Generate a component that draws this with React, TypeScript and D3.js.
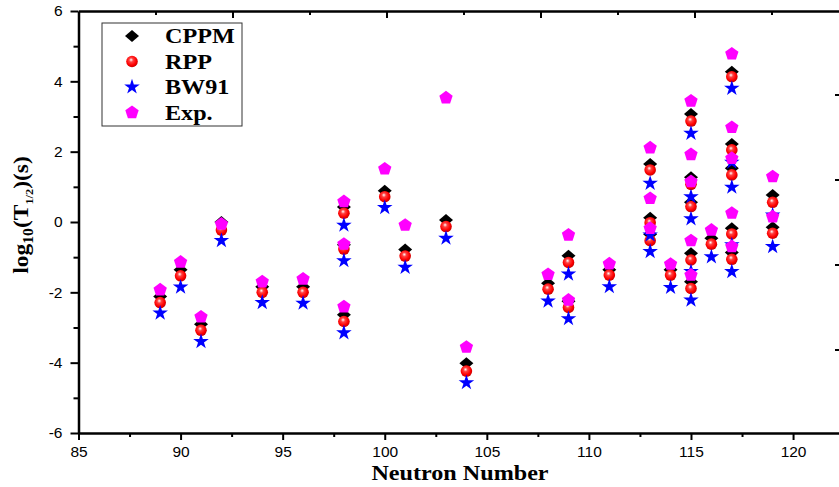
import React, { useEffect, useRef } from "react";
import * as d3 from "d3";

// neutron number of each nucleus, and log10(T1/2) from each model
const neutrons = [89, 90, 91, 92, 94, 96, 98, 98, 98, 100, 101, 103, 104, 108, 109, 109, 111, 113, 113, 113, 114, 115, 115, 115, 115, 115, 116, 117, 117, 117, 117, 117, 119, 119];
const cppm = [-2.12, -1.36, -2.91, 0.0, -1.84, -1.84, 0.43, -0.65, -2.64, 0.89, -0.78, 0.06, -4.02, -1.74, -0.96, -2.25, -1.36, 1.65, 0.12, -0.35, -1.36, 3.07, 1.27, 0.56, -0.89, -1.7, -0.46, 4.27, 2.22, 1.53, -0.18, -0.87, 0.77, -0.15];
const rpp = [-2.29, -1.53, -3.08, -0.23, -2.0, -2.0, 0.25, -0.77, -2.83, 0.72, -0.97, -0.13, -4.24, -1.91, -1.15, -2.43, -1.51, 1.48, -0.02, -0.53, -1.51, 2.87, 1.07, 0.44, -1.08, -1.89, -0.63, 4.13, 2.05, 1.34, -0.34, -1.06, 0.56, -0.32];
const bw91 = [-2.59, -1.85, -3.4, -0.53, -2.29, -2.31, -0.09, -1.1, -3.15, 0.41, -1.29, -0.46, -4.57, -2.25, -1.48, -2.75, -1.84, 1.1, -0.37, -0.84, -1.86, 2.52, 0.72, 0.09, -1.41, -2.22, -0.99, 3.8, 1.7, 0.99, -0.65, -1.41, 0.2, -0.7];
const expt = [-1.93, -1.14, -2.7, -0.06, -1.7, -1.62, 0.58, -0.63, -2.41, 1.51, -0.09, 3.53, -3.56, -1.49, -0.37, -2.22, -1.19, 2.11, 0.67, -0.18, -1.2, 3.44, 1.92, 1.15, -0.53, -1.51, -0.23, 4.78, 2.69, 1.81, 0.25, -0.7, 1.29, 0.15];

const xTicks = [85, 90, 95, 100, 105, 110, 115, 120];
const yTicks = [-6, -4, -2, 0, 2, 4, 6];
const legendNames = ["CPPM", "RPP", "BW91", "Exp."];

const width = 839;
const height = 487;
const margin = { top: 11, right: 0, bottom: 54, left: 78.5 };
const serif = "Liberation Serif, Times New Roman, serif";

const pentagon = (r: number) => {
  const pts = d3.range(5).map((i) => {
    const a = -Math.PI / 2 + (i * 2 * Math.PI) / 5;
    return [r * Math.cos(a), r * Math.sin(a)];
  });
  return "M" + pts.map((p) => p.join(",")).join("L") + "Z";
};
const diamond = "M0,-6L7,0L0,6L-7,0Z";
const star = d3.symbol().type(d3.symbolStar).size(75)() as string;

export default function App() {
  const svgRef = useRef<SVGSVGElement>(null);

  useEffect(() => {
    const svg = d3.select(svgRef.current);
    svg.selectAll("*").remove();

    const x = d3.scaleLinear().domain([85, 122.25]).range([margin.left, width - margin.right]);
    const y = d3.scaleLinear().domain([-6, 6]).range([height - margin.bottom, margin.top]);

    const defs = svg.append("defs");
    const grad = defs.append("radialGradient").attr("id", "ball").attr("cx", "45%").attr("cy", "42%").attr("r", "60%").attr("fx", "42%").attr("fy", "35%");
    grad.append("stop").attr("offset", "0%").attr("stop-color", "#ffffff");
    grad.append("stop").attr("offset", "30%").attr("stop-color", "#ff4040");
    grad.append("stop").attr("offset", "70%").attr("stop-color", "#ff0000");
    grad.append("stop").attr("offset", "100%").attr("stop-color", "#c00000");

    // bottom axis
    svg
      .append("g")
      .attr("transform", `translate(0,${y(-6)})`)
      .call(d3.axisBottom(x).tickValues(d3.range(85, 122.5, 2.5)).tickSize(7).tickSizeOuter(0).tickFormat((d) => (xTicks.includes(+d) ? String(d) : "")))
      .call((g) => g.selectAll(".tick line").attr("stroke-width", 2).attr("y2", (d: any) => (xTicks.includes(+d) ? 7 : 4)))
      .call((g) => g.select(".domain").attr("stroke-width", 2.5))
      .call((g) => g.selectAll("text").attr("font-family", "Liberation Sans, Arial, sans-serif").attr("font-size", 15.5).attr("fill", "#000").attr("dy", "0.9em"));

    // left axis
    svg
      .append("g")
      .attr("transform", `translate(${margin.left},0)`)
      .call(d3.axisLeft(y).tickValues(d3.range(-6, 7, 1)).tickSize(8).tickSizeOuter(0).tickPadding(8).tickFormat((d) => (yTicks.includes(+d) ? String(d) : "")))
      .call((g) => g.selectAll(".tick line").attr("stroke-width", 2).attr("x2", (d: any) => (yTicks.includes(+d) ? -8 : -5)))
      .call((g) => g.select(".domain").attr("stroke-width", 2.5))
      .call((g) => g.selectAll("text").attr("font-family", "Liberation Sans, Arial, sans-serif").attr("font-size", 15.5).attr("fill", "#000"));

    // top frame line with inward ticks
    const xTop = d3.scaleLinear().domain([0, 10]).range([margin.left, margin.left + 770]);
    svg
      .append("g")
      .attr("transform", `translate(0,${y(6)})`)
      .call(d3.axisBottom(xTop).tickValues(d3.range(1, 10)).tickSize(6).tickSizeOuter(0).tickFormat(() => ""))
      .call((g) => g.selectAll(".tick line").attr("stroke-width", 2).attr("y2", (d: any) => (+d % 2 === 0 ? 7 : 4)))
      .call((g) => g.select(".domain").attr("stroke-width", 2.5));

    // stray right-side ticks
    const yRight = d3.scaleLinear().domain([0, 4]).range([10, 350]);
    svg
      .append("g")
      .selectAll("line")
      .data([1, 2, 3, 4])
      .join("line")
      .attr("x1", width - 4)
      .attr("x2", width)
      .attr("y1", (d) => yRight(d))
      .attr("y2", (d) => yRight(d))
      .attr("stroke", "#000")
      .attr("stroke-width", 2);

    const pts = neutrons.map((n, i) => ({ n, cppm: cppm[i], rpp: rpp[i], bw: bw91[i], exp: expt[i] }));
    const plot = svg.append("g");

    plot
      .selectAll("path.cppm")
      .data(pts)
      .join("path")
      .attr("d", diamond)
      .attr("transform", (d) => `translate(${x(d.n)},${y(d.cppm)})`)
      .attr("fill", "#000");

    plot
      .selectAll("circle.rpp")
      .data(pts)
      .join("circle")
      .attr("cx", (d) => x(d.n))
      .attr("cy", (d) => y(d.rpp))
      .attr("r", 5.8)
      .attr("fill", "url(#ball)");

    plot
      .selectAll("path.bw")
      .data(pts)
      .join("path")
      .attr("d", star)
      .attr("transform", (d) => `translate(${x(d.n)},${y(d.bw)})`)
      .attr("fill", "#0000ff");

    plot
      .selectAll("path.exp")
      .data(pts)
      .join("path")
      .attr("d", pentagon(7))
      .attr("transform", (d) => `translate(${x(d.n)},${y(d.exp)})`)
      .attr("fill", "#ff00ff");

    // legend
    const legend = svg.append("g").attr("transform", "translate(102,23)");
    legend.append("rect").attr("width", 140).attr("height", 103).attr("fill", "#fff").attr("stroke", "#333").attr("stroke-width", 1);
    const symbols = [
      (g: any) => g.append("path").attr("d", diamond).attr("fill", "#000"),
      (g: any) => g.append("circle").attr("r", 5.8).attr("fill", "url(#ball)"),
      (g: any) => g.append("path").attr("d", star).attr("fill", "#0000ff"),
      (g: any) => g.append("path").attr("d", pentagon(7)).attr("fill", "#ff00ff"),
    ];
    legendNames.forEach((name, i) => {
      const row = legend.append("g").attr("transform", `translate(30,${13 + i * 25.5})`);
      symbols[i](row);
      row
        .append("text")
        .attr("transform", "translate(33,7) scale(1.15,1)")
        .text(name)
        .attr("font-family", serif)
        .attr("font-weight", "bold")
        .attr("font-size", 21);
    });

    // axis titles
    svg
      .append("text")
      .attr("transform", "translate(460,480) scale(1.15,1)")
      .attr("text-anchor", "middle")
      .attr("font-family", serif)
      .attr("font-weight", "bold")
      .attr("font-size", 21)
      .text("Neutron Number");

    const yl = svg
      .append("text")
      .attr("transform", `translate(28,215) rotate(-90) scale(1.12,1)`)
      .attr("text-anchor", "middle")
      .attr("font-family", serif)
      .attr("font-weight", "bold")
      .attr("font-size", 21);
    yl.append("tspan").text("log");
    yl.append("tspan").text("10").attr("font-size", 14).attr("dy", 5);
    yl.append("tspan").text("(T").attr("dy", -5);
    yl.append("tspan").text("1/2").attr("font-size", 11).attr("dy", 5);
    yl.append("tspan").text(")(s)").attr("dy", -5);
  }, []);

  return <svg ref={svgRef} width={width} height={height} style={{ position: "absolute", left: 0, top: 0 }}></svg>;
}
